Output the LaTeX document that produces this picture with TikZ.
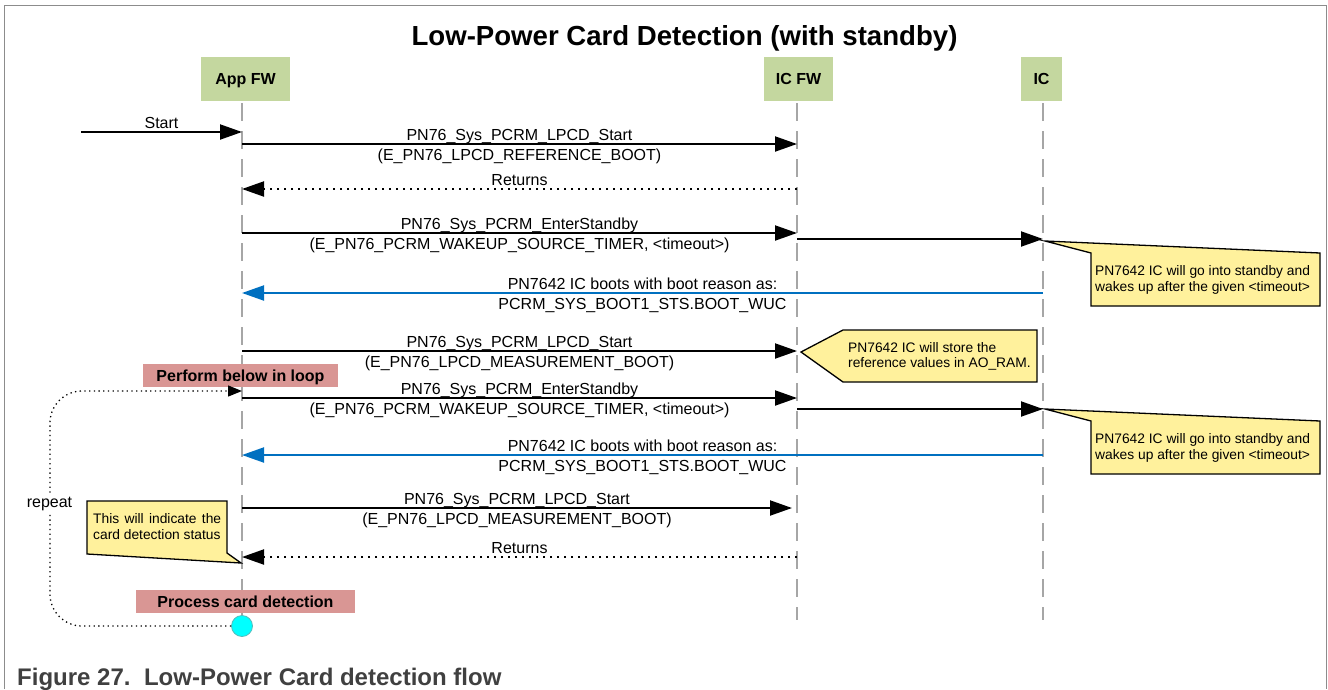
\documentclass[tikz,border=0pt]{standalone}
\usepackage{fontspec}
\setmainfont{Liberation Sans}
\usetikzlibrary{arrows.meta}
\definecolor{hdr}{HTML}{C4D79F}
\definecolor{redbx}{HTML}{D99694}
\definecolor{notey}{HTML}{FFF19C}
\definecolor{bluemsg}{HTML}{0070C0}
\definecolor{capgray}{HTML}{404040}
\definecolor{framegray}{HTML}{8C8C8C}
\definecolor{lifegray}{HTML}{A6A6A6}
\definecolor{cyanfill}{HTML}{00FFFF}
\definecolor{cyanedge}{HTML}{55BBBB}
\begin{document}
\begin{tikzpicture}[x=1pt,y=-1pt,
  hdrbox/.style={fill=hdr, minimum height=44pt, inner sep=0pt, text height=11.5pt, text depth=0pt, font=\fontsize{16}{19}\selectfont\bfseries},
  lifeline/.style={lifegray, line width=2pt, dash pattern=on 18pt off 10pt},
  msg/.style={line width=2pt, -{Triangle[length=22pt,width=15pt]}},
  retmsg/.style={line width=2pt, dash pattern=on 2pt off 5pt, -{Triangle[length=22pt,width=15pt]}},
  bmsg/.style={bluemsg, line width=2pt, -{Triangle[length=22pt,width=15pt]}},
  lbl/.style={anchor=base, inner sep=0pt, font=\fontsize{16}{19}\selectfont},
  notebox/.style={fill=notey, draw=black, line width=1.3pt, line join=miter},
  notetxt/.style={anchor=base west, inner sep=0pt, font=\fontsize{13.8}{16}\selectfont},
  redbox/.style={fill=redbx, minimum height=23pt, inner sep=0pt, text height=11.5pt, text depth=0pt, font=\fontsize{16}{19}\selectfont\bfseries},
  loopline/.style={line width=1.3pt, dash pattern=on 1.3pt off 3.4pt, rounded corners=32pt},
]
\useasboundingbox (0,0) rectangle (1328,689);
% frame
\draw[framegray, line width=1.5pt] (4.7,689) -- (4.7,5.3) -- (1326.5,5.3) -- (1326.5,689);
% title
\node[anchor=base, inner sep=0pt, font=\fontsize{27.6}{32}\selectfont\bfseries] (title) at (684.5,45) {Low-Power Card Detection (with standby)};
% headers
\node[hdrbox, minimum width=89pt] (appfw) at (245.5,79) {App FW};
\node[hdrbox, minimum width=69pt] (icfw) at (798.5,79) {IC FW};
\node[hdrbox, minimum width=41pt] (ic) at (1041.5,79) {IC};
% lifelines
\coordinate (A0) at (242,103); \coordinate (A1) at (242,620);
\coordinate (F0) at (797,103); \coordinate (F1) at (797,620);
\coordinate (C0) at (1043,103); \coordinate (C1) at (1043,620);
\draw[lifeline] (A0) -- (A1);
\draw[lifeline] (F0) -- (F1);
\draw[lifeline] (C0) -- (C1);
% message end points
\coordinate (s0) at (81,132);   \coordinate (s1) at (242,132);
\coordinate (m1a) at (242,144); \coordinate (m1b) at (797,144);
\coordinate (r1a) at (797,189); \coordinate (r1b) at (242,189);
\coordinate (m3a) at (242,233); \coordinate (m3b) at (797,233);
\coordinate (m4a) at (797,239); \coordinate (m4b) at (1043,239);
\coordinate (b1a) at (1043,293); \coordinate (b1b) at (242,293);
\coordinate (m5a) at (242,351); \coordinate (m5b) at (797,351);
\coordinate (m6a) at (242,398); \coordinate (m6b) at (797,398);
\coordinate (m7a) at (797,409); \coordinate (m7b) at (1043,409);
\coordinate (b2a) at (1043,455); \coordinate (b2b) at (242,455);
\coordinate (m8a) at (242,508); \coordinate (m8b) at (792,508);
\coordinate (r2a) at (797,557); \coordinate (r2b) at (242,557);
% messages
\draw[msg] (s0) -- (s1);
\node[lbl] (ls) at (161.5,128) {Start};
\draw[msg] (m1a) -- (m1b);
\node[lbl] (l1a) at (519.5,140) {PN76\_Sys\_PCRM\_LPCD\_Start};
\node[lbl] (l1b) at (519.5,160) {(E\_PN76\_LPCD\_REFERENCE\_BOOT)};
\draw[retmsg] (r1a) -- (r1b);
\node[lbl] (lr1) at (519.5,185) {Returns};
\draw[msg] (m3a) -- (m3b);
\node[lbl] (l3a) at (519.5,229) {PN76\_Sys\_PCRM\_EnterStandby};
\node[lbl] (l3b) at (519.5,249) {(E\_PN76\_PCRM\_WAKEUP\_SOURCE\_TIMER, <timeout>)};
\draw[msg] (m4a) -- (m4b);
\draw[bmsg] (b1a) -- (b1b);
\node[lbl] (lb1a) at (642.5,289) {PN7642 IC boots with boot reason as:};
\node[lbl] (lb1b) at (642.5,309) {PCRM\_SYS\_BOOT1\_STS.BOOT\_WUC};
\draw[msg] (m5a) -- (m5b);
\node[lbl] (l5a) at (519.5,347) {PN76\_Sys\_PCRM\_LPCD\_Start};
\node[lbl] (l5b) at (519.5,367) {(E\_PN76\_LPCD\_MEASUREMENT\_BOOT)};
\draw[msg] (m6a) -- (m6b);
\node[lbl] (l6a) at (519.5,394) {PN76\_Sys\_PCRM\_EnterStandby};
\node[lbl] (l6b) at (519.5,414) {(E\_PN76\_PCRM\_WAKEUP\_SOURCE\_TIMER, <timeout>)};
\draw[msg] (m7a) -- (m7b);
\draw[bmsg] (b2a) -- (b2b);
\node[lbl] (lb2a) at (642.5,451) {PN7642 IC boots with boot reason as:};
\node[lbl] (lb2b) at (642.5,471) {PCRM\_SYS\_BOOT1\_STS.BOOT\_WUC};
\draw[msg] (m8a) -- (m8b);
\node[lbl] (l8a) at (517,504) {PN76\_Sys\_PCRM\_LPCD\_Start};
\node[lbl] (l8b) at (517,524) {(E\_PN76\_LPCD\_MEASUREMENT\_BOOT)};
\draw[retmsg] (r2a) -- (r2b);
\node[lbl] (lr2) at (519.5,553) {Returns};
% notes
\draw[notebox] (1045,241) -- (1320,253) -- (1320,306) -- (1091,306) -- (1091,253) -- cycle;
\node[notetxt] (n1a) at (1095,275) {PN7642 IC will go into standby and};
\node[notetxt] (n1b) at (1095,291) {wakes up after the given <timeout>};
\draw[notebox] (1045,409) -- (1320,421) -- (1320,474) -- (1091,474) -- (1091,421) -- cycle;
\node[notetxt] (n2a) at (1095,443) {PN7642 IC will go into standby and};
\node[notetxt] (n2b) at (1095,459) {wakes up after the given <timeout>};
\draw[notebox] (801,352) -- (843,330) -- (1037,330) -- (1037,382) -- (843,382) -- cycle;
\node[notetxt] (n3a) at (848,352) {PN7642 IC will store the};
\node[notetxt] (n3b) at (848,367) {reference values in AO\_RAM.};
\draw[notebox] (87,501) -- (227,501) -- (227,553) -- (241,563) -- (87,554) -- cycle;
\node[notetxt] (n4a) at (93,523) {\makebox[128pt][s]{This will indicate the}};
\node[notetxt] (n4b) at (93,539) {card detection status};
% loop boxes
\node[redbox, minimum width=195pt] (loopbox) at (240.5,375.5) {Perform below in loop};
\node[redbox, minimum width=219pt] (procbox) at (245.5,601.5) {Process card detection};
% end circle and loop
\node[circle, fill=cyanfill, draw=cyanedge, line width=0.8pt, minimum size=21pt, inner sep=0pt] (endc) at (242,626) {};
\coordinate (loopend) at (242,391);
\draw[loopline, -{Triangle[length=14pt,width=11pt]}] (endc.west) -- (50,626) -- (50,391) -- (loopend);
\node[fill=white, inner sep=1.5pt, anchor=base, font=\fontsize{16}{19}\selectfont] (rep) at (49.5,507) {repeat};
% caption
\node[anchor=base west, inner sep=0pt, text=capgray, font=\fontsize{24}{28}\selectfont\bfseries] (cap) at (17,685) {Figure 27.\hspace{13.5pt}Low-Power Card detection flow};
\end{tikzpicture}
\end{document}
